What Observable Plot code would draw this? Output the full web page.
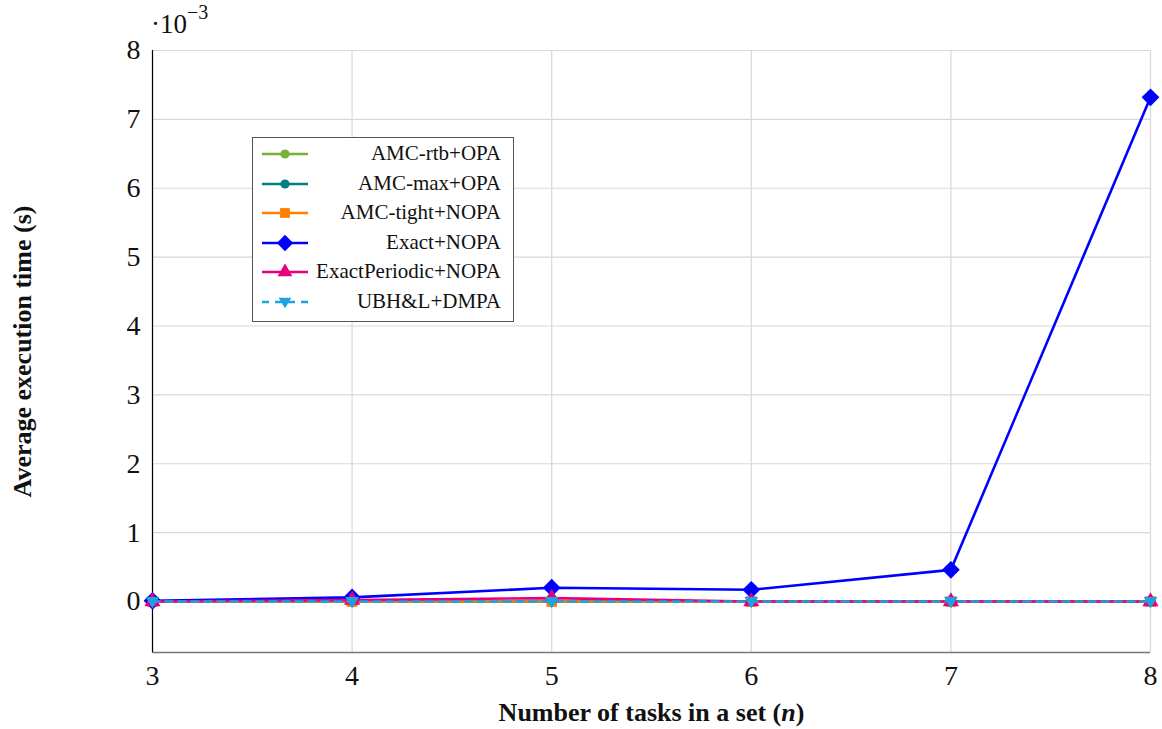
<!DOCTYPE html>
<html>
<head>
<meta charset="utf-8">
<script src="https://cdn.jsdelivr.net/npm/d3@7"></script>
<script src="https://cdn.jsdelivr.net/npm/@observablehq/plot@0.6"></script>
<style>
  html, body { margin: 0; padding: 0; background: #fff; }
  #wrap { position: relative; width: 1162px; height: 729px; font-family: "Liberation Serif", "Times New Roman", serif; }
  #chart svg, #chart svg text { font-family: "Liberation Serif", "Times New Roman", serif !important; }
  #legend { position: absolute; left: 252px; top: 137px; width: 262px; height: 185px; border: 1px solid #555; background: #fff; box-sizing: border-box; padding-top: 1px; }
  .row { position: relative; height: 29.5px; }
  .row svg { position: absolute; left: 0; top: 0; }
  .row span { position: absolute; right: 12px; top: 0; line-height: 29.5px; font-size: 21px; color: #111; white-space: nowrap; }
  #expo { position: absolute; left: 151px; top: 8px; font-size: 27px; line-height: 32px; color: #111; }
  #expo sup { font-size: 20px; position: relative; top: -4px; vertical-align: super; line-height: 0; }
</style>
</head>
<body>
<div id="wrap">
  <div id="chart"></div>
  <div id="expo">·10<sup>−3</sup></div>
  <div id="legend"></div>
</div>
<script>
// Data (execution time in units of 10^-3 s)
const tasks = [3, 4, 5, 6, 7, 8];
const amcRtbOpa = [0, 0, 0, 0, 0, 0];
const amcMaxOpa = [0, 0, 0, 0, 0, 0];
const amcTightNopa = [0, 0, 0, 0, 0, 0];
const exactNopa = [0.01, 0.06, 0.2, 0.17, 0.46, 7.32];
const exactPeriodicNopa = [0, 0.02, 0.05, 0, 0, 0];
const ubhlDmpa = [0, 0, 0, 0, 0, 0];

const seriesNames = ["AMC-rtb+OPA", "AMC-max+OPA", "AMC-tight+NOPA", "Exact+NOPA", "ExactPeriodic+NOPA", "UBH&L+DMPA"];
const seriesValues = [amcRtbOpa, amcMaxOpa, amcTightNopa, exactNopa, exactPeriodicNopa, ubhlDmpa];
const seriesColors = ["#78b13a", "#008080", "#ff8000", "#0000ff", "#e6007e", "#1aa3e0"];
const seriesDash = [null, null, null, null, null, "7,6"];
const yTicks = [0, 1, 2, 3, 4, 5, 6, 7, 8];
const xTicks = [3, 4, 5, 6, 7, 8];
const yDomain = [-0.74, 8];
const xDomain = [3, 8];

const triangleDown = {
  draw(ctx, size) {
    const s = Math.sqrt(size);
    ctx.moveTo(-0.6 * s, -0.4 * s);
    ctx.lineTo(0.6 * s, -0.4 * s);
    ctx.lineTo(0, 0.6 * s);
    ctx.closePath();
  }
};
const seriesSymbols = ["circle", "circle", "square", "diamond2", "triangle", triangleDown];
const seriesR = [5, 5, 6, 8, 6, 6.5];

const table = seriesNames.map((name, i) =>
  tasks.map((t, j) => ({series: name, n: t, v: seriesValues[i][j]}))
);

const marks = [
  Plot.gridY(yTicks, {stroke: "#d8d8d8", strokeOpacity: 1, strokeWidth: 1.2}),
  Plot.gridX(xTicks, {stroke: "#d8d8d8", strokeOpacity: 1, strokeWidth: 1.2}),
  Plot.ruleY([yDomain[0]], {stroke: "#777", strokeWidth: 1.5}),
  Plot.ruleX([xDomain[0]], {stroke: "#000", strokeWidth: 1.2}),
];
table.forEach((rows, i) => {
  marks.push(Plot.line(rows, {x: "n", y: "v", stroke: seriesColors[i], strokeWidth: 2.6, strokeDasharray: seriesDash[i] || undefined}));
  marks.push(Plot.dot(rows, {x: "n", y: "v", fill: seriesColors[i], stroke: "none", symbol: () => seriesSymbols[i], r: seriesR[i]}));
});

const chart = Plot.plot({
  width: 1162,
  height: 729,
  marginLeft: 152,
  marginRight: 12,
  marginTop: 50,
  marginBottom: 77,
  style: {fontFamily: "'Liberation Serif', serif", fontSize: "28px", color: "#111", background: "#fff", overflow: "visible"},
  x: {domain: xDomain, ticks: xTicks, tickSize: 0, tickPadding: 13, tickFormat: d => String(d), label: "Number of tasks in a set (n)", labelAnchor: "center", labelOffset: 68, labelArrow: "none"},
  y: {domain: yDomain, ticks: yTicks, tickSize: 0, tickPadding: 12, tickFormat: d => String(d), label: "Average execution time (s)", labelAnchor: "center", labelOffset: 140, labelArrow: "none"},
  symbol: {type: "identity"},
  marks
});
document.getElementById("chart").appendChild(chart);

// Style axis labels (bold, italic n)
const svg = d3.select(chart);
svg.selectAll('[aria-label="x-axis label"] text, [aria-label="y-axis label"] text')
  .style("font-weight", "bold").style("font-size", "26px");
const xl = svg.select('[aria-label="x-axis label"] text');
if (!xl.empty()) {
  xl.text(null);
  xl.append("tspan").text("Number of tasks in a set (");
  xl.append("tspan").style("font-style", "italic").text("n");
  xl.append("tspan").text(")");
}

// Legend
const legend = d3.select("#legend");
seriesNames.forEach((name, i) => {
  const row = legend.append("div").attr("class", "row");
  const s = row.append("svg").attr("width", 70).attr("height", 30);
  s.append("line").attr("x1", 9).attr("x2", 55).attr("y1", 15).attr("y2", 15)
    .attr("stroke", seriesColors[i]).attr("stroke-width", 2.6)
    .attr("stroke-dasharray", seriesDash[i]);
  const sym = typeof seriesSymbols[i] === "string"
    ? {circle: d3.symbolCircle, square: d3.symbolSquare, diamond2: d3.symbolDiamond2, triangle: d3.symbolTriangle}[seriesSymbols[i]]
    : seriesSymbols[i];
  s.append("path").attr("transform", "translate(32,15)")
    .attr("d", d3.symbol(sym, seriesR[i] * seriesR[i] * Math.PI * 0.85)())
    .attr("fill", seriesColors[i]);
  row.append("span").text(name);
});
</script>
</body>
</html>
